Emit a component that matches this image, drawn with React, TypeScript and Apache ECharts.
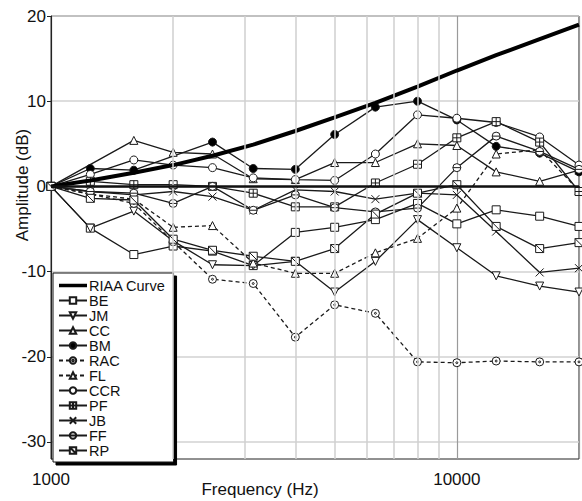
import React, { useEffect, useRef } from "react";
import * as echarts from "echarts";

const freqs = [1000, 1250, 1600, 2000, 2500, 3150, 4000, 5000, 6300, 8000, 10000, 12500, 16000, 20000];
const riaa = [0, 0.7, 1.6, 2.5, 3.6, 4.9, 6.5, 8.1, 9.8, 11.7, 13.6, 15.4, 17.3, 19.0];
const be = [0, -4.9, -8.0, -7.0, -7.6, -9.3, -5.4, -4.8, -3.9, -2.0, -4.4, -2.75, -3.5, -4.7];
const jm = [0, -4.9, -2.9, -6.4, -9.2, -9.3, -8.8, -12.4, -8.8, -3.9, -7.2, -10.5, -11.7, -12.4];
const cc = [0, null, 5.4, 4.0, 3.8, 0.9, 0.8, 2.8, 2.8, 5.0, 4.8, 1.7, 0.6, 1.9];
const bm = [0, 2.1, 1.9, null, 5.2, 2.1, 2.0, 6.1, 9.3, 10.0, 7.8, 4.7, 3.9, 1.7];
const rac = [0, -0.9, -2.0, -6.5, -10.9, -11.4, -17.7, -13.9, -14.9, -20.6, -20.7, -20.5, -20.6, -20.6];
const fl = [0, -0.9, -1.5, -4.8, -4.6, -9.0, -10.2, -10.2, -7.8, -6.1, -2.55, 3.8, 4.3, -0.5];
const ccr = [0, 1.4, 3.1, 2.5, 2.2, 1.0, 0.8, 0.7, 3.8, 8.4, 8.0, 7.5, 5.8, 2.5];
const pf = [0, 0.6, 0.2, 0.2, 0.0, -0.8, -2.4, -2.4, 0.4, 2.6, 5.7, 7.6, 5.2, -0.6];
const jb = [0, -0.6, -1.0, -0.6, -1.2, -2.8, -0.4, -0.6, -1.5, -0.8, -1.0, -5.3, -10.1, -9.6];
const ff = [0, -0.6, -0.8, -2.0, 0.0, -2.8, -1.0, -2.5, -3.0, -2.55, 2.2, 5.9, 4.1, 2.0];
const rp = [0, -1.4, -1.6, -6.2, -7.5, -8.2, -8.8, -7.3, -3.25, -0.8, 0.2, -4.7, -7.3, -6.6];

const minorFreqs = [2000, 3000, 4000, 5000, 6000, 7000, 8000, 9000];
const yLabels = [-30, -20, -10, 0, 10, 20];
const xLabels = [1000, 10000];
const legendNames = ["RIAA Curve", "BE", "JM", "CC", "BM", "RAC", "FL", "CCR", "PF", "JB", "FF", "RP"];

const FONT = '"Liberation Sans", Arial, sans-serif';

const SYM = {
  pf: "path://M0,0 L10,0 L10,10 L0,10 Z M5,0 L5,10 M0,5 L10,5",
  rp: "path://M0,0 L10,0 L10,10 L0,10 Z M0,0 L10,10",
  jb: "path://M0,0 L10,10 M10,0 L0,10",
  ff: "path://M0,5 A5,5 0 1,1 10,5 A5,5 0 1,1 0,5 Z M0,5 L10,5",
  rac: "path://M0,5 A5,5 0 1,1 10,5 A5,5 0 1,1 0,5 Z M3.8,5 A1.2,1.2 0 1,1 6.2,5 A1.2,1.2 0 1,1 3.8,5 Z",
};

function pts(vals: (number | null)[]) {
  return freqs.map((f, i) => [f, vals[i] === null ? "-" : vals[i]]);
}

function mk(name: string, vals: (number | null)[], symbol: string, opts: any = {}) {
  return {
    name,
    type: "line",
    data: pts(vals),
    connectNulls: true,
    symbol,
    symbolSize: opts.size ?? 8,
    symbolRotate: opts.rotate ?? 0,
    showSymbol: true,
    lineStyle: { color: "#1a1a1a", width: 1.3, type: opts.dashed ? [4, 3] : "solid" },
    itemStyle: {
      color: opts.fill ?? "#ffffff",
      borderColor: "#1a1a1a",
      borderWidth: 1,
    },
    emphasis: { disabled: true },
    z: 3,
  };
}

export default function App() {
  const ref = useRef<HTMLDivElement>(null);
  useEffect(() => {
    if (!ref.current) return;
    const chart = echarts.init(ref.current, undefined, { renderer: "svg" });
    const option: any = {
      animation: false,
      textStyle: { fontFamily: FONT },
      grid: {
        left: 51,
        right: 1,
        top: 16,
        bottom: 42,
        show: true,
        borderColor: "#222",
        borderWidth: 1,
        backgroundColor: "#fff",
      },
      legend: {
        data: [
          { name: "RIAA Curve", icon: "path://M0,0 L28,0 L28,3.5 L0,3.5 Z", itemStyle: { color: "#000" } },
          ...legendNames.slice(1),
        ],
        orient: "vertical",
        left: 53,
        top: 273,
        itemWidth: 28,
        itemHeight: 8,
        itemGap: 0,
        padding: [5, 8, 4, 5],
        backgroundColor: "#fff",
        borderColor: "#111",
        borderWidth: 1,
        shadowColor: "#000",
        shadowOffsetX: 3,
        shadowOffsetY: 3,
        shadowBlur: 0,
        selectedMode: false,
        textStyle: {
          fontFamily: FONT,
          fontSize: 14.5,
          lineHeight: 14.5,
          color: "#111",
          padding: [0, 0, 0, -3],
        },
      },
      xAxis: {
        type: "log",
        logBase: 10,
        min: 1000,
        max: 20000,
        axisLine: { show: true, lineStyle: { color: "#222", width: 1 } },
        axisTick: { show: true, length: 5, inside: false, lineStyle: { color: "#222" } },
        axisLabel: {
          fontFamily: FONT,
          fontSize: 17,
          color: "#111",
          margin: 12,
          formatter: (v: number) => (xLabels.includes(Math.round(v)) ? String(Math.round(v)) : ""),
        },
        splitLine: { show: true, lineStyle: { color: "#9a9a9a", width: 1.2 } },
      },
      yAxis: {
        type: "value",
        min: -32,
        max: 20,
        interval: 2,
        axisLine: { show: true, lineStyle: { color: "#222", width: 1 } },
        axisTick: { show: true, length: 4, customValues: yLabels, lineStyle: { color: "#222" } },
        axisLabel: {
          fontFamily: FONT,
          fontSize: 17,
          color: "#111",
          margin: 5,
          customValues: yLabels,
        },
        splitLine: { show: true, lineStyle: { color: "#d2d2d2", width: 1.5 } },
      },
      graphic: [
        {
          type: "text",
          x: 260,
          y: 489,
          style: {
            text: "Frequency (Hz)",
            font: `17px ${FONT}`,
            fill: "#111",
            textAlign: "center",
            textVerticalAlign: "middle",
          },
        },
        {
          type: "text",
          x: 22,
          y: 185,
          rotation: Math.PI / 2,
          style: {
            text: "Amplitude (dB)",
            font: `17px ${FONT}`,
            fill: "#111",
            textAlign: "center",
            textVerticalAlign: "middle",
          },
        },
      ],
      series: [
        {
          name: "gridlines",
          type: "line",
          data: [[1000, 0]],
          symbol: "none",
          lineStyle: { width: 0 },
          z: 1,
          silent: true,
          markLine: {
            silent: true,
            symbol: ["none", "none"],
            label: { show: false },
            animation: false,
            lineStyle: { color: "#cfcfcf", width: 1.5, type: "solid" },
            data: [
              ...minorFreqs.map((f) => ({ xAxis: f })),
              { yAxis: 0, lineStyle: { color: "#111", width: 2.5, type: "solid" } },
            ],
          },
        },
        {
          name: "RIAA Curve",
          type: "line",
          data: pts(riaa),
          symbol: "none",
          showSymbol: false,
          lineStyle: { color: "#000", width: 4 },
          itemStyle: { color: "#000" },
          emphasis: { disabled: true },
          z: 4,
        },
        mk("BE", be, "rect"),
        mk("JM", jm, "triangle", { rotate: 180 }),
        mk("CC", cc, "triangle"),
        mk("BM", bm, "circle", { fill: "#000" }),
        mk("RAC", rac, SYM.rac, { dashed: true }),
        mk("FL", fl, "triangle", { dashed: true }),
        mk("CCR", ccr, "circle"),
        mk("PF", pf, SYM.pf),
        mk("JB", jb, SYM.jb),
        mk("FF", ff, SYM.ff),
        mk("RP", rp, SYM.rp),
      ],
    };
    chart.setOption(option);
    return () => chart.dispose();
  }, []);
  return (
    <div
      ref={ref}
      style={{ position: "fixed", left: 0, top: 0, width: 582, height: 501, background: "#fff" }}
    />
  );
}
